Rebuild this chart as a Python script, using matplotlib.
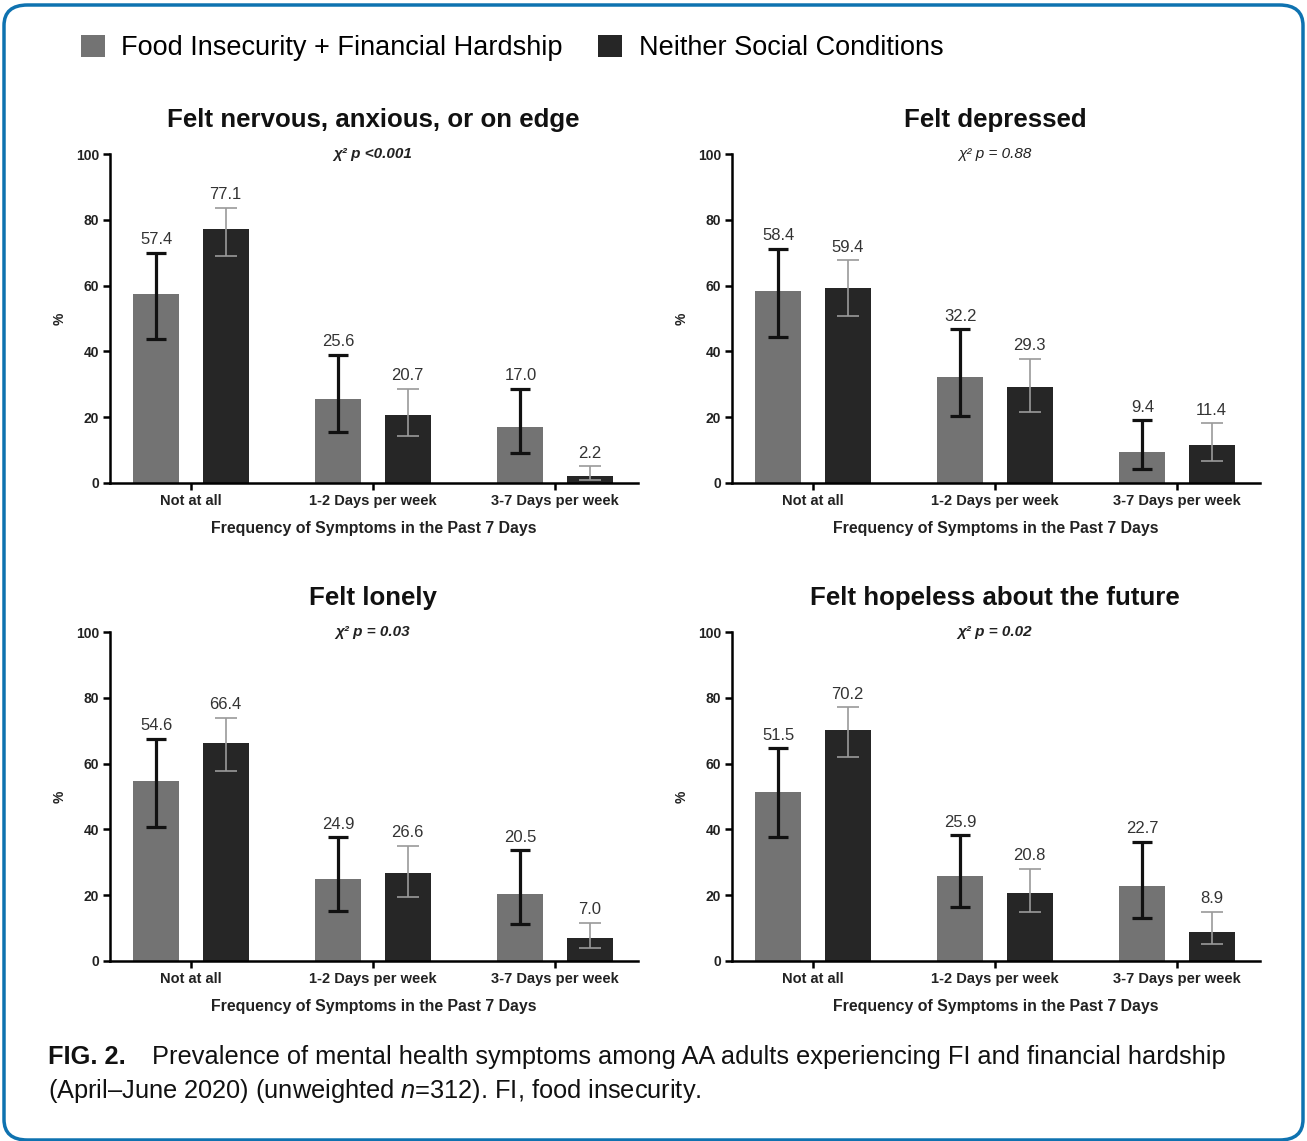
import matplotlib
matplotlib.use("Agg")
import matplotlib.pyplot as plt
from matplotlib.patches import FancyBboxPatch, Patch
import numpy as np

plt.rcParams['font.family'] = ['Liberation Sans', 'DejaVu Sans']
plt.rcParams['mathtext.fontset'] = 'custom'
plt.rcParams['mathtext.rm'] = 'Liberation Sans'
plt.rcParams['mathtext.it'] = 'Liberation Sans:italic'

# categories and series
categories = ["Not at all", "1-2 Days per week", "3-7 Days per week"]
series_names = ["Food Insecurity + Financial Hardship", "Neither Social Conditions"]
titles = ["Felt nervous, anxious, or on edge", "Felt depressed",
          "Felt lonely", "Felt hopeless about the future"]
pvals = ["χ² p <0.001", "χ² p = 0.88", "χ² p = 0.03", "χ² p = 0.02"]
p_bold = [True, False, True, True]

# percentages (FI + financial hardship, neither)
fi_vals = [[57.4, 25.6, 17.0], [58.4, 32.2, 9.4], [54.6, 24.9, 20.5], [51.5, 25.9, 22.7]]
ne_vals = [[77.1, 20.7, 2.2], [59.4, 29.3, 11.4], [66.4, 26.6, 7.0], [70.2, 20.8, 8.9]]

# confidence interval bounds
fi_lo = [[43.7, 15.4, 9.2], [44.5, 20.4, 4.3], [40.7, 15.3, 11.2], [37.7, 16.3, 13.1]]
fi_hi = [[70.0, 38.9, 28.7], [71.2, 46.7, 19.0], [67.5, 37.6, 33.7], [64.7, 38.2, 36.3]]
ne_lo = [[69.0, 14.4, 0.8], [50.7, 21.7, 6.6], [57.6, 19.4, 3.9], [62.1, 14.8, 5.2]]
ne_hi = [[83.6, 28.7, 5.1], [67.7, 37.8, 18.2], [73.9, 35.0, 11.7], [77.1, 28.1, 14.9]]

fi_color = "#737373"
ne_color = "#262626"

W, H = 1307, 1141
fig = plt.figure(figsize=(W / 100, H / 100), dpi=100)

# blue rounded frame
frame = FancyBboxPatch((4 / W, 1 / H), 1299 / W, 1135 / H,
                       boxstyle="round,pad=0,rounding_size=0.018",
                       transform=fig.transFigure, fill=False,
                       edgecolor="#0e72b0", linewidth=2.5, zorder=10)
fig.patches.append(frame)

# axes positions in pixels: (left, top of 100 line, bottom of 0 line)
lefts = [110, 732, 110, 732]
tops = [154, 154, 632, 632]
bottoms = [483, 483, 961, 961]
ax_w = 528

x = np.arange(len(categories))
bw = 0.253
off = 0.19

for i in range(4):
    l, t, b = lefts[i], tops[i], bottoms[i]
    ax = fig.add_axes([l / W, 1 - b / H, ax_w / W, (b - t) / H])
    fv = np.array(fi_vals[i])
    nv = np.array(ne_vals[i])
    ax.bar(x - off, fv, bw, color=fi_color, zorder=2)
    ax.bar(x + off, nv, bw, color=ne_color, zorder=2)
    fi_err = [fv - np.array(fi_lo[i]), np.array(fi_hi[i]) - fv]
    ne_err = [nv - np.array(ne_lo[i]), np.array(ne_hi[i]) - nv]
    ax.errorbar(x - off, fv, yerr=fi_err, fmt="none", ecolor="#111111",
                elinewidth=2.3, capsize=7, capthick=2.3, zorder=3)
    ax.errorbar(x + off, nv, yerr=ne_err, fmt="none", ecolor="#9a9a9a",
                elinewidth=1.2, capsize=8, capthick=1.2, zorder=3)
    for xi, v, hi in zip(x - off, fv, fi_hi[i]):
        ax.annotate(f"{v:.1f}", (xi, hi), xytext=(0, 4), textcoords="offset points",
                    ha="center", va="bottom", fontsize=12, color="#333333")
    for xi, v, hi in zip(x + off, nv, ne_hi[i]):
        ax.annotate(f"{v:.1f}", (xi, hi), xytext=(0, 4), textcoords="offset points",
                    ha="center", va="bottom", fontsize=12, color="#333333")

    ax.set_ylim(0, 100)
    ax.set_xlim(-0.445, 2.456)
    ax.set_yticks([0, 20, 40, 60, 80, 100])
    ax.set_xticks(x)
    ax.set_xticklabels(categories, fontsize=10.5, fontweight="bold", color="#222222")
    for lab in ax.get_yticklabels():
        lab.set_fontsize(10)
        lab.set_fontweight("bold")
        lab.set_color("#222222")
    ax.spines["top"].set_visible(False)
    ax.spines["right"].set_visible(False)
    ax.spines["left"].set_linewidth(1.8)
    ax.spines["bottom"].set_linewidth(1.8)
    ax.tick_params(axis="both", length=5, width=1.8, pad=3)
    ax.set_xlabel("Frequency of Symptoms in the Past 7 Days", fontsize=11.4,
                  fontweight="bold", color="#222222", labelpad=9)
    ax.text(-0.095, 0.5, "%", transform=ax.transAxes, rotation=90, ha="center",
            va="center", fontsize=10, fontweight="bold", color="#222222")
    ax.text(0.498, 1.103, titles[i], transform=ax.transAxes, ha="center", va="center",
            fontsize=18.6, fontweight="bold", color="#111111")
    ax.text(0.498, 1.0, pvals[i], transform=ax.transAxes, ha="center", va="center",
            fontsize=11, style="italic",
            fontweight="bold" if p_bold[i] else "normal", color="#222222")

handles = [Patch(facecolor=fi_color, edgecolor="none"),
           Patch(facecolor=ne_color, edgecolor="none")]
fig.legend(handles, series_names, loc="upper left", bbox_to_anchor=(0.043, 0.991),
           ncol=2, frameon=False, fontsize=19.5, handlelength=0.9, handleheight=0.9,
           handletextpad=0.6, columnspacing=1.3)

fig.text(48 / W, 1 - 1057 / H, "FIG. 2.", fontsize=18.3, fontweight="bold",
         ha="left", va="center", color="#111111")
fig.text(152 / W, 1 - 1057 / H,
         "Prevalence of mental health symptoms among AA adults experiencing FI and financial hardship",
         fontsize=18.3, ha="left", va="center", color="#111111")
fig.text(48 / W, 1 - 1091 / H,
         r"(April–June 2020) (unweighted $\it{n}$=312). FI, food insecurity.",
         fontsize=18.3, ha="left", va="center", color="#111111")

fig.savefig("out.png", dpi=100)
